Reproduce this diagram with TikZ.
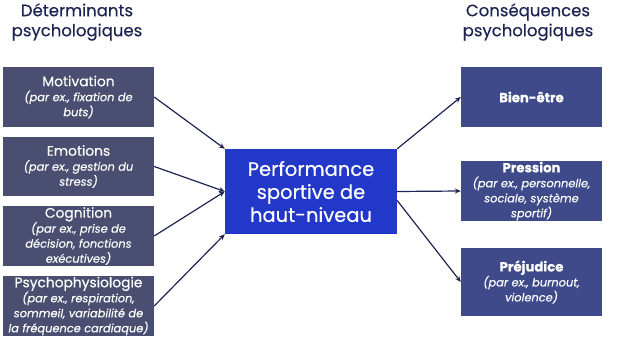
\documentclass[tikz,border=0pt]{standalone}
\usepackage{fontspec}
\setmainfont{Poppins}[UprightFeatures={FakeBold=0.35},ItalicFeatures={FakeBold=0.35},BoldFeatures={FakeBold=0.6}]
\usetikzlibrary{arrows.meta}
\definecolor{leftbox}{HTML}{4A4E70}
\definecolor{rightbox}{HTML}{3E4A8A}
\definecolor{mainblue}{HTML}{2238C8}
\definecolor{navy}{HTML}{1E2452}
\begin{document}
\begin{tikzpicture}[x=1pt,y=-1pt,
  lbox/.style={fill=leftbox,text=white,minimum width=151pt,inner sep=0pt,align=center,font=\fontsize{13.8}{15}\selectfont},
  rbox/.style={fill=rightbox,text=white,minimum width=141pt,inner sep=0pt,align=center,font=\fontsize{13.8}{15}\selectfont},
  heading/.style={text=navy,align=center,font=\fontsize{16.5}{20}\selectfont},
  conn/.style={draw=navy,line width=1.2pt,-{Stealth[length=6pt,width=5pt]}}]
\useasboundingbox (0,0) rectangle (621,342);
\newcommand{\subt}[1]{{\fontsize{11.4}{12.8}\selectfont\itshape #1}}
\node[heading] (hl) at (77,22) {Déterminants\\psychologiques};
\node[heading] (hr) at (528,22) {Conséquences\\psychologiques};
\node[lbox,minimum height=60pt] (mot) at (78.5,97) {Motivation\\\subt{(par ex., fixation de}\\\subt{buts)}};
\node[lbox,minimum height=59pt] (emo) at (78.5,166.5) {Emotions\\\subt{(par ex., gestion du}\\\subt{stress)}};
\node[lbox,minimum height=60pt] (cog) at (78.5,236) {Cognition\\\subt{(par ex., prise de}\\\subt{décision, fonctions}\\\subt{exécutives)}};
\node[lbox,minimum height=60pt] (psy) at (78.5,306) {Psychophysiologie\\\subt{(par ex., respiration,}\\\subt{sommeil, variabilité de}\\\subt{la fréquence cardiaque)}};
\node[fill=mainblue,text=white,minimum width=172pt,minimum height=85pt,inner sep=0pt,align=center,font=\fontsize{19.5}{23}\selectfont] (perf) at (311,191.5) {Performance\\sportive de\\haut-niveau};
\node[rbox,minimum height=60pt,font=\fontsize{13.2}{15}\selectfont\bfseries] (bien) at (531.5,97) {Bien-être};
\node[rbox,minimum height=60pt] (pre) at (531.5,191) {{\fontsize{13.2}{15}\selectfont\bfseries Pression}\\\subt{(par ex., personnelle,}\\\subt{sociale, système}\\\subt{sportif)}};
\node[rbox,minimum height=68pt] (prej) at (531.5,282) {{\fontsize{13.2}{15}\selectfont\bfseries Préjudice}\\\subt{(par ex., burnout,}\\\subt{violence)}};
\draw[conn] (mot.east) -- (perf.north west);
\draw[conn] (emo.east) -- (perf.west);
\draw[conn] (cog.east) -- (perf.west);
\draw[conn] (psy.east) -- (perf.south west);
\draw[conn] (perf.north east) -- (bien.west);
\draw[conn] (perf.east) -- (pre.west);
\draw[conn] ([yshift=-9pt]perf.east) -- (prej.west);
\end{tikzpicture}
\end{document}
